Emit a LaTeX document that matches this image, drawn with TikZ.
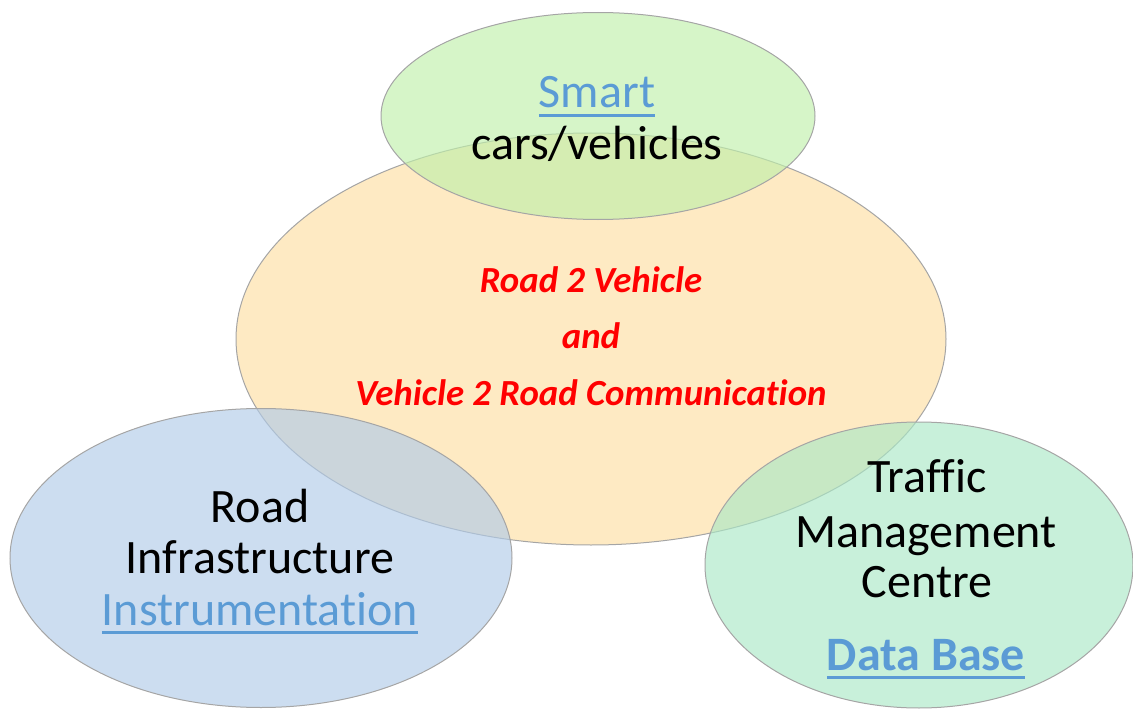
\documentclass[tikz,border=0pt]{standalone}
\usepackage{fontspec}
\setmainfont{Carlito}[RawFeature={-liga;-clig;-dlig;-calt}]
\usetikzlibrary{shapes.geometric,positioning}

\definecolor{carsgreen}{RGB}{192,240,170}
\definecolor{commorange}{RGB}{254,234,195}
\definecolor{roadblue}{RGB}{177,203,232}
\definecolor{centremint}{RGB}{170,232,198}
\definecolor{linkblue}{RGB}{91,155,213}
\definecolor{rimgray}{RGB}{165,165,165}

% underlined link text
\newsavebox\linkbox
\newcommand{\linked}[1]{\sbox\linkbox{#1}\rlap{\color{linkblue}\rule[-0.19em]{\wd\linkbox}{0.055em}}\usebox\linkbox}

\tikzset{
  bubble/.style={ellipse, draw=rimgray, line width=0.75pt, fill opacity=0.65, inner sep=0pt},
  label text/.style={anchor=base, font=\fontsize{36}{40}\selectfont, inner sep=0pt},
  comm text/.style={anchor=base, text=red, font=\fontsize{27.6}{30}\selectfont\bfseries\itshape, inner sep=0pt}
}

\begin{document}
\begin{tikzpicture}[x=0.75pt, y=-0.75pt]
        \useasboundingbox (0,0) rectangle (1133,710);

        % Define the bubbles
        \node[bubble, fill=commorange, fill opacity=1, minimum width=532.5pt, minimum height=309pt] (comm) at (591,339) {};
        \node[bubble, fill=carsgreen, minimum width=325.5pt, minimum height=155.25pt] (cars) at (598,116) {};
        \node[bubble, fill=roadblue, minimum width=376.5pt, minimum height=224.25pt] (road) at (261,558) {};
        \node[bubble, fill=centremint, minimum width=321pt, minimum height=214.5pt] (centre) at (919,565) {};

        % Smart cars
        \node[label text, text=linkblue] (smart) at (597,108) {\linked{Smart}};
        \node[label text] (vehicles) at (597,160) {cars/vehicles};

        % Communication
        \node[comm text] (r2v) at (591,292) {Road 2 Vehicle};
        \node[comm text] (and) at (591,348) {and};
        \node[comm text] (v2r) at (591,405) {Vehicle 2 Road Communication};

        % Road infrastructure
        \node[label text] (roadline) at (260,522) {Road};
        \node[label text] (infra) at (260,573) {Infrastructure};
        \node[label text, text=linkblue] (instr) at (260,625) {\linked{Instrumentation}};

        % Traffic management centre
        \node[label text] (traffic) at (927,492) {Traffic};
        \node[label text] (mgmt) at (926,547) {Management};
        \node[label text] (centreline) at (927,597) {Centre};
        \node[label text, text=linkblue, font=\fontsize{36}{40}\selectfont\bfseries] (database) at (926,670) {\linked{Data Base}};
    \end{tikzpicture}
\end{document}
